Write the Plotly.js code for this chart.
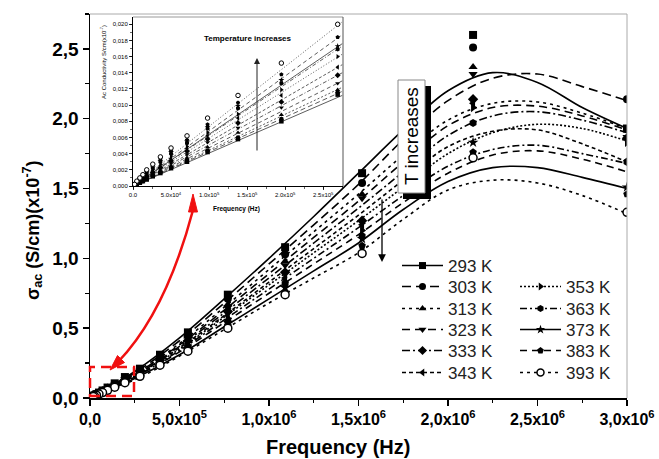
<!DOCTYPE html>
<html><head><meta charset="utf-8">
<script src="https://cdn.plot.ly/plotly-3.0.1.min.js"></script>
<style>body{margin:0;background:#fff}#chart{width:659px;height:459px}</style>
</head><body><div id="chart"></div>
<script>
// ---------- data ----------
const temps = ['293 K','303 K','313 K','323 K','333 K','343 K','353 K','363 K','373 K','383 K','393 K'];

// main plot: measured points
const ptFreq = [3000000, 2140000, 1520000, 1090000, 770000, 547000, 391000, 279000, 195000, 138000, 98000, 70000, 50000, 36000, 25000, 18000];
const pt293 = [1.93, 2.60, 1.61, 1.08, 0.74, 0.47, 0.31, 0.21, 0.15, 0.105, 0.075, 0.054, 0.039, 0.028, 0.020, 0.014];
const pt303 = [2.14, 2.51, 1.54, 1.03, 0.71, 0.455, 0.30, 0.205, 0.145, 0.100, 0.072, 0.052, 0.037, 0.027, 0.019, 0.013];
const pt313 = [1.92, 2.37, 1.46, 0.98, 0.67, 0.44, 0.29, 0.20, 0.14, 0.098, 0.070, 0.050, 0.036, 0.026, 0.018, 0.013];
const pt323 = [1.87, 2.32, 1.43, 0.95, 0.65, 0.425, 0.28, 0.195, 0.135, 0.095, 0.068, 0.049, 0.035, 0.025, 0.018, 0.012];
const pt333 = [1.86, 2.14, 1.27, 0.90, 0.62, 0.41, 0.27, 0.19, 0.13, 0.092, 0.066, 0.047, 0.034, 0.024, 0.017, 0.012];
const pt343 = [1.70, 2.11, 1.24, 0.86, 0.59, 0.39, 0.26, 0.18, 0.125, 0.089, 0.063, 0.045, 0.033, 0.023, 0.017, 0.012];
const pt353 = [1.83, 2.08, 1.20, 0.83, 0.57, 0.375, 0.255, 0.175, 0.122, 0.086, 0.061, 0.044, 0.032, 0.023, 0.016, 0.011];
const pt363 = [1.69, 1.97, 1.16, 0.82, 0.55, 0.365, 0.25, 0.17, 0.118, 0.083, 0.059, 0.043, 0.031, 0.022, 0.016, 0.011];
const pt373 = [1.51, 1.83, 1.14, 0.79, 0.54, 0.355, 0.245, 0.165, 0.115, 0.081, 0.058, 0.042, 0.030, 0.021, 0.015, 0.011];
const pt383 = [1.46, 1.76, 1.09, 0.76, 0.52, 0.345, 0.24, 0.16, 0.112, 0.079, 0.056, 0.040, 0.029, 0.021, 0.015, 0.010];
const pt393 = [1.33, 1.72, 1.035, 0.74, 0.50, 0.335, 0.235, 0.155, 0.110, 0.077, 0.055, 0.039, 0.028, 0.020, 0.014, 0.010];

// main plot: fitted curves
const fitFreq = [0, 250000, 500000, 750000, 1000000, 1250000, 1500000, 1750000, 2000000, 2250000, 2500000, 2750000, 3000000];
const fit293 = [0, 0.19, 0.43, 0.71, 1.00, 1.30, 1.61, 1.92, 2.20, 2.33, 2.26, 2.08, 1.93];
const fit303 = [0, 0.18, 0.41, 0.68, 0.96, 1.24, 1.53, 1.85, 2.13, 2.29, 2.32, 2.23, 2.13];
const fit313 = [0, 0.17, 0.39, 0.65, 0.92, 1.19, 1.46, 1.74, 1.99, 2.11, 2.12, 2.04, 1.93];
const fit323 = [0, 0.17, 0.38, 0.63, 0.89, 1.15, 1.41, 1.69, 1.95, 2.08, 2.09, 2.02, 1.92];
const fit333 = [0, 0.16, 0.37, 0.61, 0.86, 1.11, 1.36, 1.62, 1.88, 2.02, 2.05, 1.99, 1.90];
const fit343 = [0, 0.16, 0.36, 0.59, 0.83, 1.07, 1.31, 1.56, 1.80, 1.91, 1.92, 1.82, 1.69];
const fit353 = [0, 0.16, 0.35, 0.58, 0.81, 1.04, 1.27, 1.51, 1.75, 1.90, 1.96, 1.93, 1.84];
const fit363 = [0, 0.15, 0.34, 0.56, 0.78, 1.00, 1.22, 1.45, 1.66, 1.78, 1.81, 1.75, 1.68];
const fit373 = [0, 0.14, 0.31, 0.51, 0.71, 0.91, 1.11, 1.35, 1.55, 1.65, 1.65, 1.58, 1.50];
const fit383 = [0, 0.15, 0.33, 0.54, 0.75, 0.96, 1.17, 1.40, 1.61, 1.74, 1.77, 1.71, 1.62];
const fit393 = [0, 0.13, 0.30, 0.49, 0.68, 0.86, 1.04, 1.28, 1.49, 1.56, 1.54, 1.45, 1.32];

// inset: low-frequency points
const inFreq = [269000, 195000, 138000, 98000, 71000, 50000, 36000, 26000, 18000, 13000, 9000, 5000, 2000];
const in293 = [.0113, .0080, .0058, .0042, .0030, .0022, .0016, .0012, .0008, .0006, .0004, .0002, .0001];
const in303 = [.0116, .0083, .0060, .0044, .0032, .0023, .0017, .0013, .0009, .0006, .0004, .0002, .0001];
const in313 = [.0119, .0088, .0066, .0048, .0035, .0025, .0019, .0014, .0010, .0007, .0005, .0003, .0001];
const in323 = [.0127, .0097, .0072, .0054, .0039, .0028, .0021, .0015, .0011, .0008, .0005, .0003, .0001];
const in333 = [.0137, .0104, .0078, .0058, .0043, .0031, .0023, .0017, .0012, .0009, .0006, .0003, .0001];
const in343 = [.0147, .0112, .0084, .0062, .0046, .0034, .0025, .0019, .0013, .0010, .0007, .0004, .0002];
const in353 = [.0160, .0119, .0089, .0066, .0049, .0037, .0027, .0020, .0014, .0011, .0007, .0004, .0002];
const in363 = [.0169, .0127, .0096, .0071, .0053, .0040, .0030, .0022, .0016, .0012, .0008, .0004, .0002];
const in373 = [.0173, .0131, .0099, .0073, .0055, .0042, .0031, .0023, .0017, .0012, .0009, .0005, .0002];
const in383 = [.0184, .0138, .0103, .0076, .0057, .0044, .0033, .0025, .0018, .0013, .0009, .0005, .0002];
const in393 = [.0200, .0152, .0112, .0084, .0062, .0047, .0036, .0027, .0020, .0014, .0010, .0006, .0002];
// inset linear fits (start, end)
const inFitFreq = [0, 275000];
const inFitEnd = [.0112, .0117, .0122, .0130, .0140, .0150, .0163, .0173, .0176, .0187, .0203];

// tick labels
const xTickVals = [0, 500000, 1000000, 1500000, 2000000, 2500000, 3000000];
const xTickText = ['0,0','5,0x10<sup>5</sup>','1,0x10<sup>6</sup>','1,5x10<sup>6</sup>','2,0x10<sup>6</sup>','2,5x10<sup>6</sup>','3,0x10<sup>6</sup>'];
const yTickVals = [0, 0.5, 1.0, 1.5, 2.0, 2.5];
const yTickText = ['0,0','0,5','1,0','1,5','2,0','2,5'];
const inXTickVals = [0, 50000, 100000, 150000, 200000, 250000];
const inXTickText = ['0.0','5.0x10<sup>4</sup>','1.0x10<sup>5</sup>','1.5x10<sup>5</sup>','2.0x10<sup>5</sup>','2.5x10<sup>5</sup>'];
const inYTickVals = [0, .002, .004, .006, .008, .010, .012, .014, .016, .018, .020];
const inYTickText = ['0,000','0,002','0,004','0,006','0,008','0,010','0,012','0,014','0,016','0,018','0,020'];

// ---------- styling ----------
const pts = [pt293, pt303, pt313, pt323, pt333, pt343, pt353, pt363, pt373, pt383, pt393];
const fits = [fit293, fit303, fit313, fit323, fit333, fit343, fit353, fit363, fit373, fit383, fit393];
const ins = [in293, in303, in313, in323, in333, in343, in353, in363, in373, in383, in393];
const symbols = ['square','circle','triangle-up','triangle-down','diamond','triangle-left','triangle-right','hexagon','star','pentagon','circle'];
const dashes = ['solid','9px,5px','3px,4px','8px,5px','8px,3px,2px,3px','4px,3px','2px,2px','7px,3px,2px,3px','solid','7px,5px','3px,4px'];
const inDashes = ['solid','5px,3px','2px,2px','4px,3px','4px,2px,1px,2px','3px,2px','1px,2px','4px,2px,1px,2px','solid','4px,3px','1px,2px'];
const FONT = 'Liberation Sans, Arial, sans-serif';

// legend placement (pixel rows / columns)
const legRowY = [266, 287, 309, 330, 351, 373, 287, 309, 330, 351, 373];
const legColX = [397, 397, 397, 397, 397, 397, 515, 515, 515, 515, 515];

function mk(i, size) {
  if (i === 10) return {symbol: 'circle', size: size, color: 'white', line: {color: 'black', width: 1.5}};
  return {symbol: symbols[i], size: size, color: 'black', line: {color: 'black', width: 0}};
}

const traces = [];
for (let i = 0; i < 11; i++) {
  traces.push({x: fitFreq, y: fits[i], mode: 'lines', line: {color: 'black', width: 1.6, dash: dashes[i], shape: 'spline', smoothing: 1},
    showlegend: false, hoverinfo: 'skip'});
}
for (let i = 0; i < 11; i++) {
  traces.push({x: ptFreq, y: pts[i], mode: 'markers', marker: mk(i, 8), showlegend: false});
}
for (let i = 0; i < 11; i++) {
  traces.push({x: inFitFreq, y: [0, inFitEnd[i]], xaxis: 'x2', yaxis: 'y2', mode: 'lines',
    line: {color: '#333', width: 0.8, dash: inDashes[i]}, showlegend: false, hoverinfo: 'skip'});
}
for (let i = 0; i < 11; i++) {
  traces.push({x: inFreq, y: ins[i], xaxis: 'x2', yaxis: 'y2', mode: 'markers',
    marker: i === 10 ? {symbol: 'circle', size: 4.5, color: 'white', line: {color: 'black', width: 1}} : {symbol: symbols[i], size: 4.5, color: 'black'},
    showlegend: false});
}
for (let i = 0; i < 11; i++) {
  traces.push({x: [null], y: [null], name: temps[i], mode: 'lines+markers', legend: i === 0 ? 'legend' : 'legend' + (i + 1),
    line: {color: 'black', width: 1.6, dash: dashes[i]}, marker: mk(i, 7)});
}

// pixel -> paper helpers (plot area 90..627 x 14..398)
const L = 90, R = 627, T = 14, B = 398;
const px = v => (v - L) / (R - L);
const py = v => (B - v) / (B - T);

const layout = {
  width: 659, height: 459,
  margin: {l: L, r: 659 - R, t: T, b: 459 - B},
  paper_bgcolor: 'white', plot_bgcolor: 'white',
  font: {family: FONT, color: 'black'},
  xaxis: {range: [0, 3000000], showgrid: false, zeroline: false, showline: true, linecolor: 'black', linewidth: 1.5,
    ticks: 'outside', ticklen: 6, tickwidth: 1.5, tickcolor: 'black', tickmode: 'array', tickvals: xTickVals, ticktext: xTickText,
    tickfont: {size: 16, weight: 'bold', family: FONT},
    minor: {dtick: 250000, tick0: 0, ticks: 'outside', ticklen: 3.5, tickwidth: 1.2, tickcolor: 'black'}},
  yaxis: {range: [0, 2.75], showgrid: false, zeroline: false, showline: true, linecolor: 'black', linewidth: 1.5,
    ticks: 'outside', ticklen: 6, tickwidth: 1.5, tickcolor: 'black', tickmode: 'array', tickvals: yTickVals, ticktext: yTickText,
    tickfont: {size: 19, weight: 'bold', family: FONT},
    minor: {dtick: 0.25, tick0: 0, ticks: 'outside', ticklen: 3.5, tickwidth: 1.2, tickcolor: 'black'}},
  xaxis2: {domain: [px(133), px(343)], anchor: 'y2', range: [0, 276000], showgrid: false, zeroline: false, showline: true,
    linecolor: 'black', linewidth: 1, ticks: 'outside', ticklen: 3, tickwidth: 0.8, tickcolor: 'black',
    tickmode: 'array', tickvals: inXTickVals, ticktext: inXTickText, tickfont: {size: 6, family: FONT},
    minor: {dtick: 25000, tick0: 0, ticks: 'outside', ticklen: 2, tickwidth: 0.6, tickcolor: 'black'}},
  yaxis2: {domain: [py(186), py(17)], anchor: 'x2', range: [0, 0.0209], showgrid: false, zeroline: false, showline: true,
    linecolor: 'black', linewidth: 1, ticks: 'outside', ticklen: 3, tickwidth: 0.8, tickcolor: 'black',
    tickmode: 'array', tickvals: inYTickVals, ticktext: inYTickText, tickfont: {size: 6, family: FONT},
    minor: {dtick: 0.001, tick0: 0, ticks: 'outside', ticklen: 2, tickwidth: 0.6, tickcolor: 'black'}},
  shapes: [
    // main frame top/right (gray)
    {type: 'line', xref: 'paper', yref: 'paper', x0: 0, x1: 1, y0: 1, y1: 1, line: {color: '#aaa', width: 1}},
    {type: 'line', xref: 'paper', yref: 'paper', x0: 1, x1: 1, y0: 0, y1: 1, line: {color: '#aaa', width: 1}},
    // inset frame top/right
    {type: 'line', xref: 'x2 domain', yref: 'y2 domain', x0: 0, x1: 1, y0: 1, y1: 1, line: {color: '#999', width: 1}},
    {type: 'line', xref: 'x2 domain', yref: 'y2 domain', x0: 1, x1: 1, y0: 0, y1: 1, line: {color: '#555', width: 1}},
    // T increases box shadow + box
    {type: 'rect', xref: 'paper', yref: 'paper', x0: px(403), x1: px(431), y0: py(199), y1: py(86), fillcolor: 'black', line: {width: 0}},
    {type: 'rect', xref: 'paper', yref: 'paper', x0: px(398), x1: px(425), y0: py(193), y1: py(80), fillcolor: 'white', line: {color: '#888', width: 1}},
    // red dashed zoom box
    {type: 'rect', xref: 'paper', yref: 'paper', x0: px(90), x1: px(134), y0: py(396), y1: py(367),
      line: {color: '#f01010', width: 2.5, dash: '10px,6px'}},
    // red curved arrow
    {type: 'path', xref: 'paper', yref: 'paper',
      path: `M${px(193)},${py(210)} Q${px(166)},${py(312)} ${px(118)},${py(362)}`, line: {color: '#f01010', width: 2.5}},
    {type: 'path', xref: 'paper', yref: 'paper',
      path: `M${px(193)},${py(194)} L${px(188.5)},${py(212)} L${px(197.5)},${py(212)} Z`, fillcolor: '#f01010', line: {color: '#f01010', width: 1}},
    {type: 'path', xref: 'paper', yref: 'paper',
      path: `M${px(110)},${py(370)} L${px(124.5)},${py(362.5)} L${px(117.5)},${py(355.5)} Z`, fillcolor: '#f01010', line: {color: '#f01010', width: 1}}
  ],
  annotations: [
    {xref: 'paper', yref: 'paper', x: px(32), y: py(230), xanchor: 'center', yanchor: 'middle', textangle: -90, showarrow: false,
      text: '<b>σ<sub>ac</sub> (S/cm)(x10<sup>-7</sup>)</b>', font: {size: 18, family: FONT}},
    {xref: 'paper', yref: 'paper', x: px(338), y: py(447), xanchor: 'center', yanchor: 'middle', showarrow: false,
      text: '<b>Frequency (Hz)</b>', font: {size: 20, family: FONT}},
    {xref: 'paper', yref: 'paper', x: px(411.5), y: py(136.5), xanchor: 'center', yanchor: 'middle', textangle: -90, showarrow: false,
      text: 'T increases', font: {size: 19, family: FONT}},
    {xref: 'paper', yref: 'paper', x: px(382), y: py(262), ax: 0, ay: -64, showarrow: true, arrowhead: 2,
      arrowsize: 1.2, arrowwidth: 1.3, arrowcolor: 'black', text: ''},
    {xref: 'paper', yref: 'paper', x: px(257), y: py(58), ax: 0, ay: 94, showarrow: true, arrowhead: 2,
      arrowsize: 1.2, arrowwidth: 1, arrowcolor: '#222', text: ''},
    {xref: 'paper', yref: 'paper', x: px(248), y: py(39), xanchor: 'center', yanchor: 'middle', showarrow: false,
      text: '<b>Temperature increases</b>', font: {size: 8, family: FONT}},
    {xref: 'paper', yref: 'paper', x: px(236), y: py(209), xanchor: 'center', yanchor: 'middle', showarrow: false,
      text: '<b>Frequency (Hz)</b>', font: {size: 6.5, family: FONT}},
    {xref: 'paper', yref: 'paper', x: px(103), y: py(62), xanchor: 'center', yanchor: 'middle', textangle: -90, showarrow: false,
      text: 'Ac Conductivity S/cm(x10<sup>-7</sup>)', font: {size: 6, family: FONT}}
  ]
};

for (let i = 0; i < 11; i++) {
  layout[i === 0 ? 'legend' : 'legend' + (i + 1)] = {
    x: px(legColX[i]), y: py(legRowY[i]), xanchor: 'left', yanchor: 'middle', bgcolor: 'rgba(0,0,0,0)',
    itemwidth: 41, font: {size: 17, family: FONT, color: '#222'}
  };
}

Plotly.newPlot('chart', traces, layout, {displayModeBar: false, staticPlot: true});
</script>
</body></html>
